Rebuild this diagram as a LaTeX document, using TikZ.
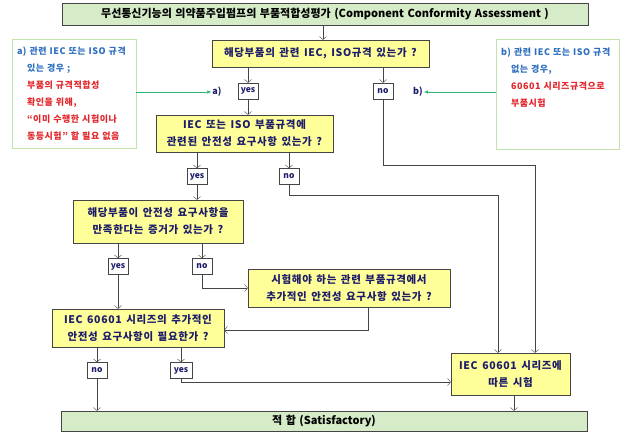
\documentclass[tikz,border=0pt]{standalone}
\usepackage{fontspec}
\setmainfont{Noto Sans CJK KR}[WordSpace=1.4]
\newfontfamily\askfont{Noto Sans CJK KR}[LetterSpace=6,WordSpace=1.5]
\usetikzlibrary{arrows.meta}
\definecolor{boxgreen}{HTML}{D6EBC8}
\definecolor{boxyellow}{HTML}{FFFF99}
\definecolor{navytext}{HTML}{1C1C6B}
\definecolor{noteline}{HTML}{C2E3AC}
\definecolor{notered}{HTML}{E3262B}
\definecolor{noteblue}{HTML}{2E6FBF}
\definecolor{greenarrow}{HTML}{2DB56E}
\definecolor{linegray}{HTML}{454545}
\tikzset{
    titlebox/.style={draw=linegray,fill=boxgreen,inner sep=0pt,font=\bfseries\fontsize{11}{12}\selectfont},
    askbox/.style={draw=linegray,fill=boxyellow,inner sep=0pt,align=center,text=navytext,font=\askfont\bfseries\fontsize{10.5}{17}\selectfont},
    notebox/.style={draw=noteline,fill=white,inner sep=5pt,align=left,font=\askfont\bfseries\fontsize{9}{17}\selectfont},
    answer/.style={draw=linegray,fill=white,inner sep=0pt,minimum width=20pt,minimum height=16pt,text=navytext,font=\bfseries\fontsize{8.5}{9}\selectfont},
    tag/.style={text=navytext,inner sep=1pt,font=\bfseries\fontsize{9}{9}\selectfont},
    flow/.style={draw=linegray,-{Straight Barb[length=3pt,width=7pt]},thin},
    hint/.style={draw=greenarrow,-{Latex[length=4pt,width=3.5pt]},thin}
}
\begin{document}
\begin{tikzpicture}[x=1pt,y=-1pt]
    \useasboundingbox (0,0) rectangle (625,432);

    \node[titlebox,minimum width=526pt,minimum height=22pt] (title) at (325,14)
        {무선통신기능의 의약품주입펌프의 부품적합성평가 (Component Conformity Assessment )};

    \node[askbox,minimum width=217pt,minimum height=27pt] (q1) at (320.5,53.5)
        {해당부품의 관련 IEC, ISO규격 있는가 ?};
    \node[askbox,minimum width=177pt,minimum height=37pt] (q2) at (244.5,133.5)
        {IEC 또는 ISO 부품규격에\\관련된 안전성 요구사항 있는가 ?};
    \node[askbox,minimum width=170pt,minimum height=43pt] (q3) at (158,221.5)
        {해당부품이 안전성 요구사항을\\만족한다는 증거가 있는가 ?};
    \node[askbox,minimum width=202pt,minimum height=38pt] (q4) at (349,288)
        {시험해야 하는 관련 부품규격에서\\추가적인 안전성 요구사항 있는가 ?};
    \node[askbox,minimum width=172pt,minimum height=38pt] (q5) at (138,328)
        {IEC 60601 시리즈의 추가적인\\안전성 요구사항이 필요한가 ?};
    \node[askbox,minimum width=119pt,minimum height=42pt] (test) at (510.5,374)
        {IEC 60601 시리즈에\\따른 시험};

    \node[titlebox,minimum width=526pt,minimum height=20pt] (ok) at (324,421)
        {적 합 (Satisfactory)};

    \node[notebox,minimum width=124pt,minimum height=109pt,text width=114pt] (notea) at (74,93.5)
        {\textcolor{noteblue}{a) 관련 IEC 또는 ISO 규격}\\
         \hspace*{10pt}\textcolor{noteblue}{있는 경우 ;}\\
         \hspace*{10pt}\textcolor{notered}{부품의 규격적합성}\\
         \hspace*{10pt}\textcolor{notered}{확인을 위해,}\\
         \hspace*{10pt}\textcolor{notered}{“이미 수행한 시험이나}\\
         \hspace*{10pt}\textcolor{notered}{동등시험” 할 필요 없음}};
    \node[notebox,minimum width=123pt,minimum height=110pt,text width=113pt] (noteb) at (557.5,94)
        {\textcolor{noteblue}{b) 관련 IEC 또는 ISO 규격}\\
         \hspace*{10pt}\textcolor{noteblue}{없는 경우,}\\
         \hspace*{10pt}\textcolor{notered}{60601 시리즈규격으로}\\
         \hspace*{10pt}\textcolor{notered}{부품시험}\\
         ~\\
         ~};

    \node[tag] (taga) at (217,92) {a)};
    \node[tag] (tagb) at (418,92) {b)};

    \node[answer] (yes1) at (248,91) {yes};
    \node[answer] (no1) at (383,91) {no};
    \node[answer] (yes2) at (197,176.5) {yes};
    \node[answer] (no2) at (289,176.5) {no};
    \node[answer] (yes3) at (118,266.5) {yes};
    \node[answer] (no3) at (202,266.5) {no};
    \node[answer] (no4) at (97,370.5) {no};
    \node[answer,minimum width=22pt] (yes4) at (181,370.5) {yes};

    \coordinate (turn1) at (535,165);
    \coordinate (turn2) at (498,195);
    \coordinate (turn3) at (368,330);

    \draw[hint] (notea.east |- taga) -- (taga.west);
    \draw[hint] (noteb.west |- tagb) -- (tagb.east);

    \draw[flow] (title.south -| 323,0) -- (q1.north -| 323,0);
    \draw[flow] (q1.south -| yes1) -- (yes1.north);
    \draw[flow] (q1.south -| no1) -- (no1.north);
    \draw[flow] (yes1.south) -- (q2.north -| yes1);
    \draw[flow] (no1.south) |- (turn1) -- (turn1 |- test.north);
    \draw[flow] (q2.south -| yes2) -- (yes2.north);
    \draw[flow] (q2.south -| no2) -- (no2.north);
    \draw[flow] (no2.south) |- (turn2) -- (turn2 |- test.north);
    \draw[flow] (yes2.south) -- (q3.north -| yes2);
    \draw[flow] (q3.south -| yes3) -- (yes3.north);
    \draw[flow] (q3.south -| no3) -- (no3.north);
    \draw[flow] (no3.south) |- (q4.west);
    \draw[flow] (yes3.south) -- (q5.north -| yes3);
    \draw[flow] (q4.south -| turn3) -- (turn3) -- (turn3 -| q5.east);
    \draw[flow] (q5.south -| no4) -- (no4.north);
    \draw[flow] (q5.south -| yes4) -- (yes4.north);
    \draw[flow] (no4.south) -- (ok.north -| no4);
    \draw[flow] (yes4.south) |- ([yshift=-8pt]test.west);
    \draw[flow] (test.south -| 514,0) -- (ok.north -| 514,0);
\end{tikzpicture}
\end{document}
